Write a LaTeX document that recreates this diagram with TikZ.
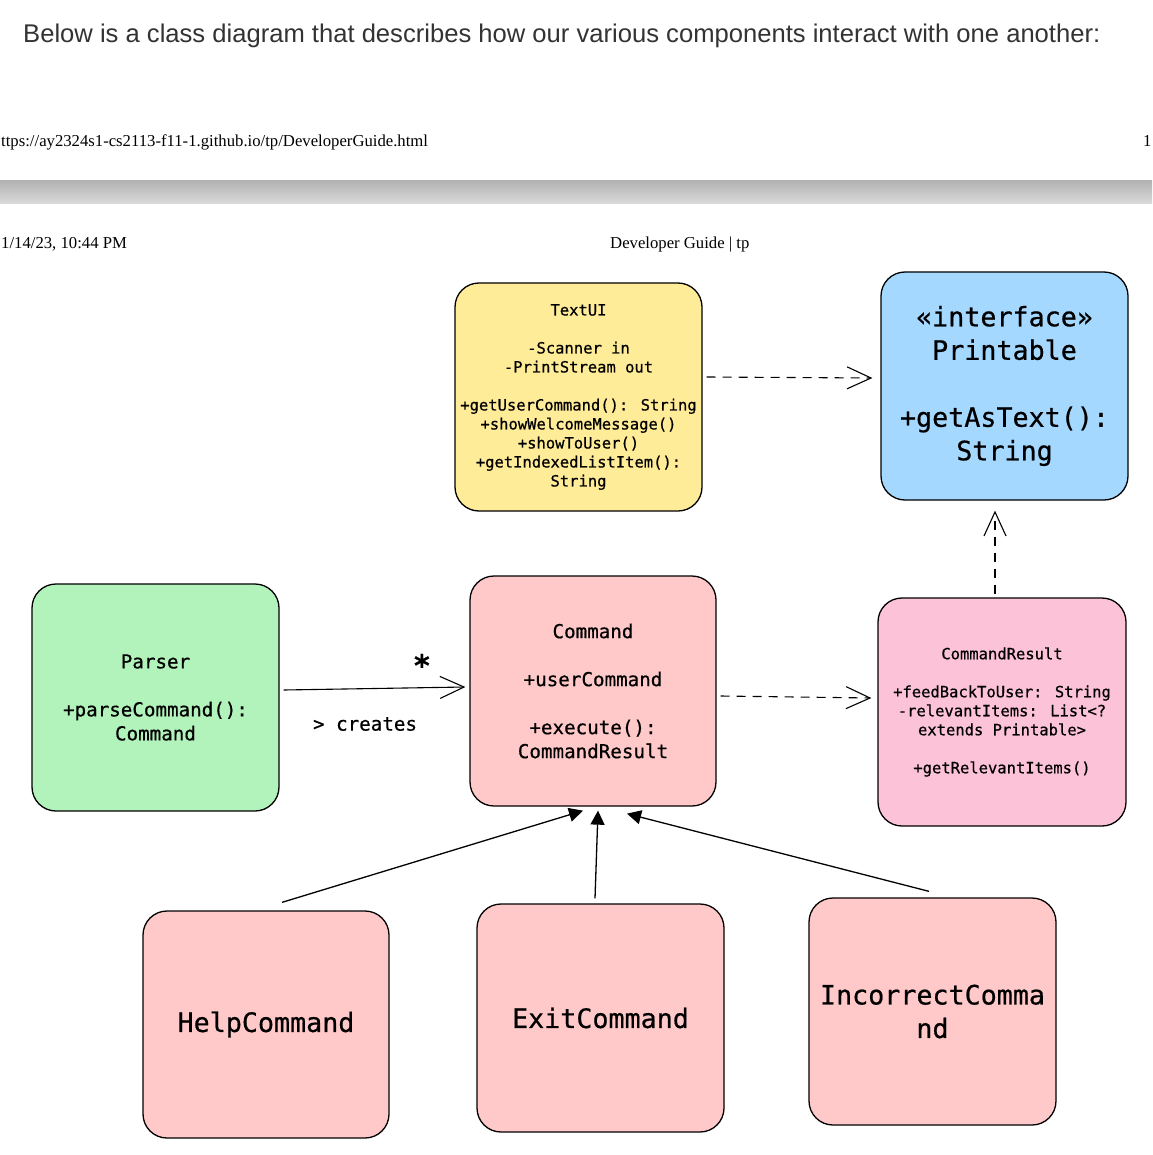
\documentclass[tikz,border=0pt]{standalone}
\usepackage{fontspec}
\setmainfont{Liberation Serif}
\newfontfamily\hdrfont{Liberation Sans}
\newfontfamily\codefont[FakeBold=0.6]{DejaVu Sans Mono}
\usetikzlibrary{arrows.meta}
\definecolor{cyellow}{HTML}{FFEC99}
\definecolor{cblue}{HTML}{A5D8FF}
\definecolor{cgreen}{HTML}{B2F2BB}
\definecolor{cred}{HTML}{FFC9C9}
\definecolor{cpink}{HTML}{FCC2D7}
\definecolor{hdrgray}{HTML}{333333}
\tikzset{
  classbox/.style={draw=black, line width=1.3pt, rounded corners=24pt, inner sep=0pt,
    minimum width=247pt, minimum height=228pt, align=center, text=black},
  small/.style={font=\codefont\fontsize{15.5}{19}\selectfont},
  medium/.style={font=\codefont\fontsize{19.2}{24}\selectfont},
  large/.style={font=\codefont\fontsize{26.7}{33.5}\selectfont},
  realize/.style={dash pattern=on 9pt off 7pt, line width=1.1pt, -{Straight Barb[length=24pt,width=22pt,line width=1.1pt]}},
  assoc/.style={line width=1.1pt, -{Straight Barb[length=24pt,width=22pt,line width=1.1pt]}},
  inherit/.style={line width=1.3pt, -{Triangle[length=14pt,width=14pt]}},
}
\begin{document}
\begin{tikzpicture}[x=1pt,y=-1pt]
\useasboundingbox (0,0) rectangle (1152,1155);
\fill[white] (0,0) rectangle (1152,1155);

% page header
\node[anchor=west, inner sep=0pt, text=hdrgray, font=\hdrfont\fontsize{25.6}{30}\selectfont] (intro) at (23,36)
  {Below is a class diagram that describes how our various components interact with one another:};
\node[anchor=base west, inner sep=0pt, font=\fontsize{16.7}{19}\selectfont] (url) at (1,147)
  {ttps://ay2324s1-cs2113-f11-1.github.io/tp/DeveloperGuide.html};
\node[anchor=base west, inner sep=0pt, font=\fontsize{16.7}{19}\selectfont] (pgno) at (1143,147) {1};
\shade[top color=black!30, middle color=black!12, bottom color=black!14] (0,181) rectangle (1152,204);
\node[anchor=base west, inner sep=0pt, font=\fontsize{16.7}{19}\selectfont] (date) at (1,249) {1/14/23, 10:44 PM};
\node[anchor=base west, inner sep=0pt, font=\fontsize{16.7}{19}\selectfont] (title) at (610,249) {Developer Guide | tp};

% classes
\node[classbox, fill=cyellow, small] (textui) at (578.5,397)
  {TextUI\\[19pt]-Scanner in\\-PrintStream out\\[19pt]+getUserCommand(): String\\+showWelcomeMessage()\\+showToUser()\\+getIndexedListItem():\\String};
\node[classbox, fill=cblue, large] (printable) at (1004.5,386)
  {«interface»\\Printable\\[33.5pt]+getAsText():\\String};
\node[classbox, fill=cgreen, medium, minimum height=227pt] (parser) at (155.5,697.5)
  {Parser\\[24pt]+parseCommand():\\Command};
\node[classbox, fill=cred, medium, minimum width=246pt, minimum height=230pt] (command) at (593,691)
  {Command\\[24pt]+userCommand\\[24pt]+execute():\\CommandResult};
\node[classbox, fill=cpink, small, minimum width=248pt] (cresult) at (1002,712)
  {CommandResult\\[19pt]+feedBackToUser: String\\-relevantItems: List<?\\extends Printable>\\[19pt]+getRelevantItems()};
\node[classbox, fill=cred, large, minimum width=246pt, minimum height=227pt] (help) at (266,1024.5) {HelpCommand};
\node[classbox, fill=cred, large] (exit) at (600.5,1018) {ExitCommand};
\node[classbox, fill=cred, large, minimum height=227pt] (incorrect) at (932.5,1011.5) {IncorrectComma\\nd};

% connectors
\draw[realize] ([xshift=4pt,yshift=20pt]textui.east) -- ([xshift=-8pt,yshift=8pt]printable.west);
\draw[realize] ([xshift=-7pt,yshift=3pt]cresult.north) -- ([xshift=-9.5pt,yshift=-10pt]printable.south);
\draw[realize] ([xshift=4pt,yshift=-5pt]command.east) -- ([xshift=-6pt,yshift=14pt]cresult.west);
\draw[assoc] ([xshift=4pt,yshift=7.5pt]parser.east) -- ([xshift=-4pt,yshift=4pt]command.west)
  node[pos=0.75, above=11pt, xshift=2pt, inner sep=0pt, font=\codefont\bfseries\fontsize{30}{30}\selectfont] (mult) {*};
\node[medium, inner sep=0pt] (creates) at (365,724) {> creates};
\draw[inherit] ([xshift=16pt,yshift=8pt]help.north) -- ([xshift=-10pt,yshift=-4pt]command.south);
\draw[inherit] ([xshift=-5.5pt,yshift=5pt]exit.north) -- ([xshift=5pt,yshift=-4pt]command.south);
\draw[inherit] ([xshift=-3.5pt,yshift=6pt]incorrect.north) -- ([xshift=34pt,yshift=-7pt]command.south);
\end{tikzpicture}
\end{document}
